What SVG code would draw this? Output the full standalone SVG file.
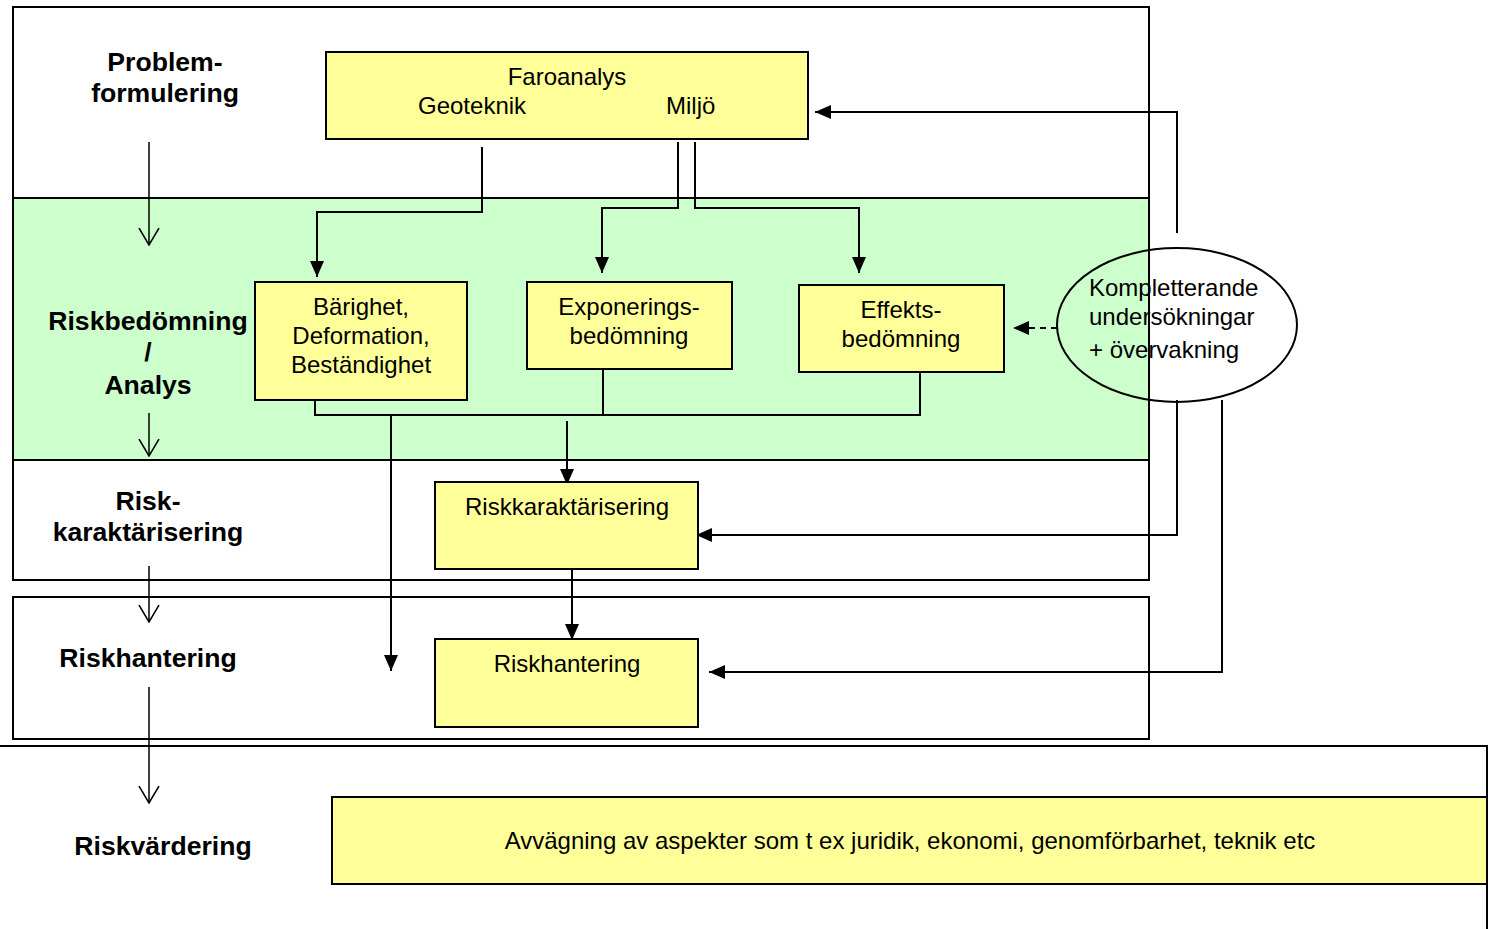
<svg xmlns="http://www.w3.org/2000/svg" width="1490" height="929" viewBox="0 0 1490 929">
<defs>
<style>
.frame{fill:none;stroke:#000;stroke-width:2}
.box{fill:#FFFF99;stroke:#000;stroke-width:2}
.ln{fill:none;stroke:#000;stroke-width:2}
.open{fill:none;stroke:#000;stroke-width:1.5}
.t{font-family:"Liberation Sans",Arial,sans-serif;font-size:24px;fill:#000}
.b{font-family:"Liberation Sans",Arial,sans-serif;font-size:26.6px;font-weight:bold;fill:#000}
.m{text-anchor:middle}
</style>
<marker id="ah" viewBox="0 0 16 14" markerWidth="16" markerHeight="14" refX="16" refY="7" orient="auto" markerUnits="userSpaceOnUse">
<path d="M0,0 L16,7 L0,14 Z" fill="#000"/>
</marker>
<marker id="av" viewBox="0 0 18 22" markerWidth="18" markerHeight="22" refX="17" refY="11" orient="auto" markerUnits="userSpaceOnUse">
<path d="M0,1 L17,11 L0,21" fill="none" stroke="#000" stroke-width="1.5"/>
</marker>
</defs>
<rect width="1490" height="929" fill="#fff"/>

<g id="sections">
<rect x="13" y="198" width="1136" height="262" fill="#CCFFCC"/>
<rect class="frame" x="13" y="7" width="1136" height="573"/>
<line class="frame" x1="13" y1="198" x2="1149" y2="198"/>
<line class="frame" x1="13" y1="460" x2="1149" y2="460"/>
<rect class="frame" x="13" y="597" width="1136" height="142"/>
<path class="frame" d="M0,746 H1487 V929"/>
</g>

<g id="stage-labels">
<text class="b m" x="165" y="71">Problem-</text>
<text class="b m" x="165" y="102">formulering</text>
<text class="b m" x="148" y="330">Riskbedömning</text>
<text class="b m" x="148" y="361">/</text>
<text class="b m" x="148" y="394">Analys</text>
<text class="b m" x="148" y="510">Risk-</text>
<text class="b m" x="148" y="541">karaktärisering</text>
<text class="b m" x="148" y="667">Riskhantering</text>
<text class="b m" x="163" y="855">Riskvärdering</text>
</g>

<g id="connectors">
<line class="open" x1="149" y1="142" x2="149" y2="245" marker-end="url(#av)"/>
<line class="open" x1="149" y1="413" x2="149" y2="456" marker-end="url(#av)"/>
<line class="open" x1="149" y1="566" x2="149" y2="622" marker-end="url(#av)"/>
<line class="open" x1="149" y1="687" x2="149" y2="803" marker-end="url(#av)"/>

<path class="ln" d="M482,147 V212 H317 V277" marker-end="url(#ah)"/>
<path class="ln" d="M678,142 V208 H602 V273" marker-end="url(#ah)"/>
<path class="ln" d="M695,142 V208 H859 V273" marker-end="url(#ah)"/>

<path class="ln" d="M315,400 V415 H920 V372"/>
<line class="ln" x1="603" y1="369" x2="603" y2="415"/>
<line class="ln" x1="391" y1="415" x2="391" y2="671" marker-end="url(#ah)"/>
<line class="ln" x1="567" y1="421" x2="567" y2="485" marker-end="url(#ah)"/>
<line class="ln" x1="572" y1="566" x2="572" y2="640" marker-end="url(#ah)"/>

<path class="ln" d="M1177,233 V112 H815" marker-end="url(#ah)"/>
<line class="ln" x1="1057" y1="328" x2="1013" y2="328" stroke-dasharray="6,5" marker-end="url(#ah)"/>
<path class="ln" d="M1177,400 V535 H696" marker-end="url(#ah)"/>
<path class="ln" d="M1222,400 V672 H709" marker-end="url(#ah)"/>
</g>

<g id="faroanalys">
<rect class="box" x="326" y="52" width="482" height="87"/>
<text class="t m" x="567" y="85">Faroanalys</text>
<text class="t" x="418" y="114">Geoteknik</text>
<text class="t" x="666" y="114">Miljö</text>
</g>

<g id="barighet">
<rect class="box" x="255" y="282" width="212" height="118"/>
<text class="t m" x="361" y="315">Bärighet,</text>
<text class="t m" x="361" y="344">Deformation,</text>
<text class="t m" x="361" y="373">Beständighet</text>
</g>

<g id="exponering">
<rect class="box" x="527" y="282" width="205" height="87"/>
<text class="t m" x="629" y="315">Exponerings-</text>
<text class="t m" x="629" y="344">bedömning</text>
</g>

<g id="effekt">
<rect class="box" x="799" y="285" width="205" height="87"/>
<text class="t m" x="901" y="318">Effekts-</text>
<text class="t m" x="901" y="347">bedömning</text>
</g>

<g id="komplettering">
<ellipse cx="1177" cy="325" rx="120" ry="77" fill="none" stroke="#000" stroke-width="2"/>
<text class="t" x="1089" y="296">Kompletterande</text>
<text class="t" x="1089" y="325">undersökningar</text>
<text class="t" x="1089" y="358">+ övervakning</text>
</g>

<g id="riskkarakterisering">
<rect class="box" x="435" y="482" width="263" height="87"/>
<text class="t m" x="567" y="515">Riskkaraktärisering</text>
</g>

<g id="riskhantering">
<rect class="box" x="435" y="639" width="263" height="88"/>
<text class="t m" x="567" y="672">Riskhantering</text>
</g>

<g id="avvagning">
<rect class="box" x="332" y="797" width="1155" height="87"/>
<text class="t m" x="910" y="849">Avvägning av aspekter som t ex juridik, ekonomi, genomförbarhet, teknik etc</text>
</g>
</svg>
